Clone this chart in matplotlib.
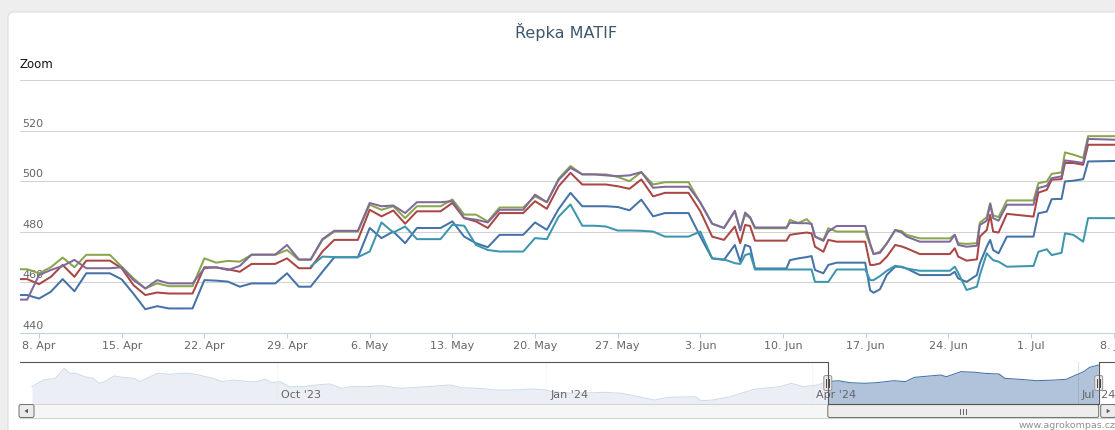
import matplotlib
matplotlib.use("Agg")
import matplotlib.pyplot as plt
import matplotlib.dates as mdates
from matplotlib.patches import FancyBboxPatch, Rectangle, Polygon
from matplotlib.transforms import blended_transform_factory, offset_copy
from matplotlib.ticker import FuncFormatter
import pandas as pd

# ---------------- data ----------------
TITLE = "Řepka MATIF"
ZOOM_LABEL = "Zoom"
CREDITS = "www.agrokompas.cz"

daily_dates = pd.date_range("2024-04-06", "2024-06-05", freq="D")
cyan_daily_dates = pd.date_range("2024-05-01", "2024-06-05", freq="D")

blue_daily = [455.0, 455.0, 453.6, 456.3, 461.3, 456.5, 463.6, 463.6, 463.6, 461.2,
              455.5, 449.4, 450.6, 449.7, 449.7, 449.7, 460.9, 460.7, 460.3, 458.3,
              459.6, 459.6, 459.6, 463.6, 458.3, 458.3, 464.2, 469.9, 469.9, 469.9,
              481.5, 477.5, 480.1, 475.5, 481.5, 481.5, 481.5, 484.1, 478.1, 475.5,
              473.9, 478.8, 478.8, 478.8, 483.7, 480.8, 489.0, 495.4, 490.1, 490.1,
              490.1, 489.8, 488.5, 492.7, 486.1, 487.4, 487.4, 487.4, 478.1, 469.5,
              468.9]
red_daily = [461.3, 461.3, 459.3, 462.2, 466.9, 462.2, 468.6, 468.6, 468.6, 465.6,
             458.9, 455.0, 456.0, 455.6, 455.6, 455.6, 466.0, 465.9, 465.2, 464.2,
             467.3, 467.3, 467.3, 469.5, 465.6, 465.6, 472.2, 476.8, 476.8, 476.8,
             488.7, 486.1, 488.4, 483.2, 488.1, 488.1, 488.1, 491.4, 485.4, 484.1,
             481.5, 487.4, 487.4, 487.4, 492.1, 489.1, 498.0, 503.3, 498.7, 498.7,
             498.7, 498.0, 497.0, 500.7, 494.0, 495.4, 495.4, 495.4, 488.1, 478.1,
             476.8]
green_daily = [465.2, 465.2, 463.6, 466.0, 469.8, 466.0, 470.9, 470.9, 470.9, 466.2,
               461.6, 457.6, 459.6, 458.5, 458.5, 458.5, 469.5, 467.8, 468.5, 468.2,
               470.9, 470.9, 470.9, 472.8, 468.9, 468.9, 476.8, 480.1, 480.1, 480.1,
               490.7, 488.7, 490.1, 485.4, 490.1, 490.1, 490.1, 492.8, 486.8, 486.8,
               484.1, 489.6, 489.6, 489.6, 494.0, 491.7, 501.0, 506.0, 502.7, 502.7,
               502.7, 501.7, 500.0, 503.6, 498.7, 499.6, 499.6, 499.6, 491.4, 483.2,
               481.5]
purple_daily = [453.2, 453.2, 462.9, 464.9, 466.5, 468.9, 465.6, 465.6, 465.6, 466.0,
                460.9, 457.6, 460.9, 459.6, 459.6, 459.6, 465.6, 466.0, 464.9, 466.5,
                471.0, 471.0, 471.0, 474.8, 469.1, 469.1, 477.1, 480.4, 480.4, 480.4,
                491.4, 490.1, 490.4, 487.4, 491.7, 491.7, 491.7, 492.1, 485.4, 484.8,
                483.7, 488.7, 488.7, 488.7, 494.7, 491.7, 500.5, 505.3, 502.7, 502.7,
                502.3, 502.0, 502.3, 503.6, 497.4, 497.8, 497.8, 497.8, 491.6, 483.2,
                481.5]
cyan_daily = [466.3, 470.2, 470.0, 470.0, 470.0, 472.2, 483.7, 479.7, 482.1, 477.1,
              477.1, 477.1, 482.8, 482.4, 474.8, 472.8, 472.2, 472.2, 472.2, 477.5,
              477.1, 486.0, 490.8, 482.4, 482.4, 482.1, 480.5, 480.5, 480.4, 480.1,
              478.1, 478.1, 478.1, 480.1, 469.5, 469.1]

intraday_times = pd.to_datetime([
    "2024-06-05 22:00", "2024-06-06 09:00", "2024-06-06 19:00", "2024-06-07 05:00",
    "2024-06-07 15:00", "2024-06-10 07:00", "2024-06-10 14:00", "2024-06-11 07:00",
    "2024-06-12 00:00", "2024-06-12 10:00", "2024-06-12 17:00", "2024-06-13 10:00",
    "2024-06-13 20:00", "2024-06-14 13:00", "2024-06-16 23:00", "2024-06-17 09:00",
    "2024-06-17 16:00", "2024-06-18 05:00", "2024-06-18 19:00", "2024-06-19 12:00",
    "2024-06-20 01:00", "2024-06-20 11:00", "2024-06-21 14:00", "2024-06-24 03:00",
    "2024-06-24 13:00", "2024-06-24 20:00", "2024-06-25 13:00", "2024-06-26 10:00",
    "2024-06-26 16:00", "2024-06-27 06:00", "2024-06-27 13:00", "2024-06-27 19:00",
    "2024-06-28 06:00", "2024-06-28 23:00", "2024-07-01 05:00", "2024-07-01 15:00",
    "2024-07-02 08:00", "2024-07-02 18:00", "2024-07-03 14:00", "2024-07-03 21:00",
    "2024-07-04 14:00", "2024-07-05 10:00", "2024-07-05 20:00", "2024-07-08 03:00",
    "2024-07-09 00:00"])

blue_intraday = [474.8, 468.2, 474.8, 474.1, 465.5, 465.5, 468.8, 469.5, 470.0, 470.4,
                 464.9, 463.6, 466.9, 467.8, 467.8, 456.9, 455.9, 457.3, 463.0, 466.2,
                 466.2, 465.5, 462.9, 462.9, 464.2, 461.6, 460.2, 462.9, 467.5, 474.1,
                 476.8, 472.8, 471.5, 478.1, 478.1, 487.3, 488.0, 492.9, 493.0, 499.9,
                 500.2, 500.8, 507.8, 508.0, 508.8]
red_intraday = [482.1, 475.5, 482.7, 482.3, 476.5, 476.5, 478.8, 479.3, 479.7, 479.4,
                474.1, 472.1, 476.8, 476.1, 476.1, 466.9, 466.9, 467.5, 470.2, 474.8,
                474.2, 473.5, 471.2, 471.2, 473.5, 470.2, 468.6, 469.1, 478.1, 480.7,
                486.7, 480.1, 479.7, 487.1, 486.0, 495.5, 496.6, 500.6, 500.8, 507.2,
                507.2, 506.5, 514.4, 514.4, 514.4]
green_intraday = [488.1, 480.8, 486.7, 485.5, 481.4, 481.4, 484.7, 483.5, 485.0, 483.1,
                  478.1, 476.8, 481.4, 480.1, 480.1, 474.8, 471.2, 472.1, 475.4, 480.7,
                  480.3, 478.8, 477.4, 477.4, 478.8, 475.5, 475.2, 475.5, 483.6, 485.8,
                  491.3, 486.5, 485.8, 492.4, 492.4, 499.2, 499.9, 502.9, 503.5, 511.4,
                  510.5, 509.2, 517.8, 517.8, 517.8]
purple_intraday = [488.3, 480.5, 487.6, 485.8, 481.7, 481.7, 483.6, 483.4, 483.4, 483.1,
                   478.1, 476.4, 480.1, 482.3, 482.3, 475.4, 471.2, 471.7, 475.4, 480.7,
                   479.7, 478.1, 476.1, 476.1, 478.8, 474.8, 474.1, 474.5, 482.7, 484.4,
                   491.0, 485.4, 484.4, 490.7, 490.7, 497.3, 498.2, 501.2, 501.9, 508.2,
                   507.8, 507.2, 516.7, 516.4, 516.4]
cyan_intraday = [467.6, 467.3, 470.8, 471.4, 465.1, 465.1, 465.1, 465.1, 465.1, 465.1,
                 460.2, 460.2, 460.2, 465.1, 465.1, 460.9, 460.9, 462.5, 464.6, 466.6,
                 466.0, 465.5, 464.6, 464.6, 466.2, 463.8, 457.0, 458.3, 462.9, 471.5,
                 470.0, 468.8, 468.2, 466.2, 466.5, 472.1, 473.1, 470.8, 471.7, 479.4,
                 478.8, 476.1, 485.4, 485.4, 485.4]

view_start = pd.Timestamp("2024-04-06 09:20")
view_end = pd.Timestamp("2024-07-08 02:40")
y_min, y_max = 440, 540
y_ticks = [440, 460, 480, 500, 520, 540]
y_tick_labels = ["440", "460", "480", "500", "520", ""]

nav_dates = pd.to_datetime([
    "2023-07-09", "2023-07-13", "2023-07-17", "2023-07-20", "2023-07-22", "2023-07-24",
    "2023-07-27", "2023-07-30", "2023-08-01", "2023-08-03", "2023-08-06", "2023-08-09",
    "2023-08-13", "2023-08-15", "2023-08-18", "2023-08-21", "2023-08-25", "2023-08-29",
    "2023-09-01", "2023-09-04", "2023-09-09", "2023-09-12", "2023-09-16", "2023-09-21",
    "2023-09-24", "2023-09-27", "2023-09-29", "2023-10-02", "2023-10-05", "2023-10-10",
    "2023-10-14", "2023-10-19", "2023-10-23", "2023-10-26", "2023-10-31", "2023-11-06",
    "2023-11-12", "2023-11-21", "2023-11-29", "2023-12-03", "2023-12-09", "2023-12-15",
    "2023-12-21", "2023-12-27", "2024-01-01", "2024-01-03", "2024-01-10", "2024-01-21",
    "2024-01-27", "2024-02-07", "2024-02-12", "2024-02-21", "2024-02-23", "2024-02-27",
    "2024-03-04", "2024-03-12", "2024-03-21", "2024-03-25", "2024-03-29", "2024-04-03",
    "2024-04-06", "2024-04-10", "2024-04-14", "2024-04-19", "2024-04-23", "2024-04-29",
    "2024-05-03", "2024-05-06", "2024-05-11", "2024-05-15", "2024-05-17", "2024-05-22",
    "2024-05-27", "2024-05-30", "2024-06-04", "2024-06-06", "2024-06-11", "2024-06-17",
    "2024-06-23", "2024-06-27", "2024-06-29", "2024-07-03", "2024-07-05", "2024-07-08"])
nav_values = [438.5, 461.2, 467.0, 501.2, 484.2, 484.2, 472.7, 467.0,
              450.0, 455.8, 475.0, 470.5, 467.0, 455.8, 470.5, 484.2, 480.7, 484.2,
              484.2, 478.5, 467.0, 455.8, 461.2, 455.8, 455.8, 463.8, 452.2,
              455.8, 438.5, 438.5, 444.2, 447.8, 432.7, 438.5, 438.5,
              442.0, 432.7, 438.5, 444.2,
              435.0, 432.7, 427.0, 427.0, 430.5,
              427.0, 421.2, 415.8, 419.0, 415.8,
              392.7, 402.0, 404.2, 390.5, 392.7,
              404.2, 429.2, 438.5, 450.0, 438.5,
              444.2, 455.8, 459.0, 452.2, 450.0, 452.2, 459.0,
              455.8, 470.5, 475.0, 478.5, 472.7, 490.0, 487.8, 484.2,
              482.0, 467.0, 463.8, 459.0, 461.2, 463.8, 472.7,
              490.0, 504.7, 512.7]
nav_start = pd.Timestamp("2023-07-04 21:36")
nav_end = pd.Timestamp("2024-07-13 16:48")
nav_ylim = (379.1, 523.1)
nav_tick_dates = pd.to_datetime(["2023-10-01", "2024-01-01", "2024-04-01", "2024-07-01"])
nav_tick_labels = ["Oct '23", "Jan '24", "Apr '24", "Jul '24"]

BLUE, RED, GREEN, PURPLE, CYAN = "#4572A7", "#AA4643", "#89A54E", "#80699B", "#3D96AE"

series = [
    (list(daily_dates) + list(intraday_times), blue_daily + blue_intraday, BLUE),
    (list(daily_dates) + list(intraday_times), red_daily + red_intraday, RED),
    (list(daily_dates) + list(intraday_times), green_daily + green_intraday, GREEN),
    (list(daily_dates) + list(intraday_times), purple_daily + purple_intraday, PURPLE),
    (list(cyan_daily_dates) + list(intraday_times), cyan_daily + cyan_intraday, CYAN),
]

# ---------------- figure ----------------
W, H = 1115, 430
fig = plt.figure(figsize=(W / 100, H / 100), dpi=100)
fig.patch.set_facecolor("#eeeeee")


def frac_box(l, t, r, b):
    return [l / W, 1 - b / H, (r - l) / W, (b - t) / H]


bg = fig.add_axes([0, 0, 1, 1], zorder=0)
bg.set_xlim(0, W)
bg.set_ylim(H, 0)
bg.axis("off")
bg.add_patch(FancyBboxPatch((8, 12), W + 40, H + 40,
                            boxstyle="round,pad=0,rounding_size=6",
                            fc="white", ec="#dddddd", lw=0.8))

# main plot
ax = fig.add_axes(frac_box(20, 80, W, 333), zorder=1)
ax.set_facecolor("none")
for s in ["top", "right", "left"]:
    ax.spines[s].set_visible(False)
ax.spines["bottom"].set_color("#C0D0E0")
ax.spines["bottom"].set_linewidth(0.75)
ax.set_xlim(mdates.date2num(view_start), mdates.date2num(view_end))
ax.set_ylim(y_min, y_max)
ax.xaxis.set_major_locator(mdates.WeekdayLocator(byweekday=mdates.MO))
ax.xaxis.set_major_formatter(FuncFormatter(
    lambda v, p: f"{mdates.num2date(v).day}. {mdates.num2date(v).strftime('%b')}"))
ax.tick_params(axis="x", length=3.6, width=0.75, color="#C0D0E0",
               labelcolor="#666666", labelsize=8, pad=2)
ax.set_yticks(y_ticks[1:])
ax.tick_params(axis="y", length=0, labelleft=False)
ax.yaxis.grid(True, color="#d2d2d2", lw=0.75)
ax.set_axisbelow(True)

ytrans = offset_copy(blended_transform_factory(ax.transAxes, ax.transData),
                     fig=fig, x=2, y=2, units="dots")
for v, lab in zip(y_ticks, y_tick_labels):
    ax.text(0, v, lab, transform=ytrans, ha="left", va="bottom",
            color="#666666", fontsize=8, zorder=0.5)

for xs, ys, c in series:
    ax.plot(xs, ys, color=c, lw=1.45, solid_joinstyle="round",
            solid_capstyle="round", zorder=2)

# navigator
nav = fig.add_axes(frac_box(20, 362, W, 404), zorder=1)
nav.set_facecolor("none")
nav.axis("off")
nav.set_xlim(mdates.date2num(nav_start), mdates.date2num(nav_end))
nav.set_ylim(*nav_ylim)
for d in nav_tick_dates:
    nav.axvline(d, color="#e2e2e2", lw=0.75, zorder=0.5)
nav.fill_between(nav_dates, nav_values, nav_ylim[0], color=BLUE, alpha=0.42,
                 lw=0, zorder=1)
nav.plot(nav_dates, nav_values, color=BLUE, lw=0.75, zorder=2)
nav.axvspan(nav_start, view_start, color="white", alpha=0.75, lw=0, zorder=3)
nav.axvspan(view_end, nav_end, color="white", alpha=0.75, lw=0, zorder=3)
ntrans = offset_copy(blended_transform_factory(nav.transData, nav.transAxes),
                     fig=fig, x=4, y=0, units="dots")
for d, lab in zip(nav_tick_dates, nav_tick_labels):
    nav.text(d, 0.21, lab, transform=ntrans, ha="left", va="center",
             color="#666666", fontsize=8, zorder=5)

# overlay (pixel coordinates)
ov = fig.add_axes([0, 0, 1, 1], zorder=3)
ov.set_xlim(0, W)
ov.set_ylim(H, 0)
ov.axis("off")
ov.set_facecolor("none")

selL = nav.transData.transform((mdates.date2num(view_start), 0))[0]
selR = nav.transData.transform((mdates.date2num(view_end), 0))[0]

ov.text(566, 32, TITLE, ha="center", va="center", color="#3E576F", fontsize=11.5)
ov.text(20, 65, ZOOM_LABEL, ha="left", va="center", color="#111111", fontsize=8.5)

# scrollbar
ov.add_patch(Rectangle((20, 404), W - 20, 14, fc="#f6f6f6", ec="#d4d4d4", lw=0.75))
ov.add_patch(FancyBboxPatch((19, 404.5), 15, 13, boxstyle="round,pad=0,rounding_size=2",
                            fc="#ebebeb", ec="#777777", lw=0.75))
ov.add_patch(Polygon([(24.5, 411), (28, 408.8), (28, 413.2)], closed=True,
                     fc="#555555", ec="none"))
ov.add_patch(FancyBboxPatch((selL, 404.5), selR - selL, 13,
                            boxstyle="round,pad=0,rounding_size=2",
                            fc="#ededed", ec="#777777", lw=0.75))
cx = (selL + selR) / 2
for dx in (-3, 0, 3):
    ov.plot([cx + dx, cx + dx], [408.5, 414], color="#666666", lw=0.7)
ov.add_patch(FancyBboxPatch((selR + 2, 404.5), 15, 13, boxstyle="round,pad=0,rounding_size=2",
                            fc="#ebebeb", ec="#777777", lw=0.75))
ov.add_patch(Polygon([(selR + 11.5, 411), (selR + 8, 408.8), (selR + 8, 413.2)],
                     closed=True, fc="#555555", ec="none"))

# navigator outline and handles
ov.plot([20, selL, selL, selR, selR, W], [362, 362, 404, 404, 362, 362],
        color="#555555", lw=0.8)
for hx in (selL, selR):
    ov.add_patch(FancyBboxPatch((hx - 4, 375.5), 8, 15,
                                boxstyle="round,pad=0,rounding_size=2",
                                fc="#ebe7e8", ec="#999999", lw=0.75))
    for dx in (-1.3, 1.3):
        ov.plot([hx + dx, hx + dx], [379, 387], color="#444444", lw=0.7)

ov.text(1116, 425, CREDITS, ha="right", va="center", color="#909090", fontsize=6.8)

fig.savefig("out.png", dpi=100, facecolor=fig.get_facecolor())
